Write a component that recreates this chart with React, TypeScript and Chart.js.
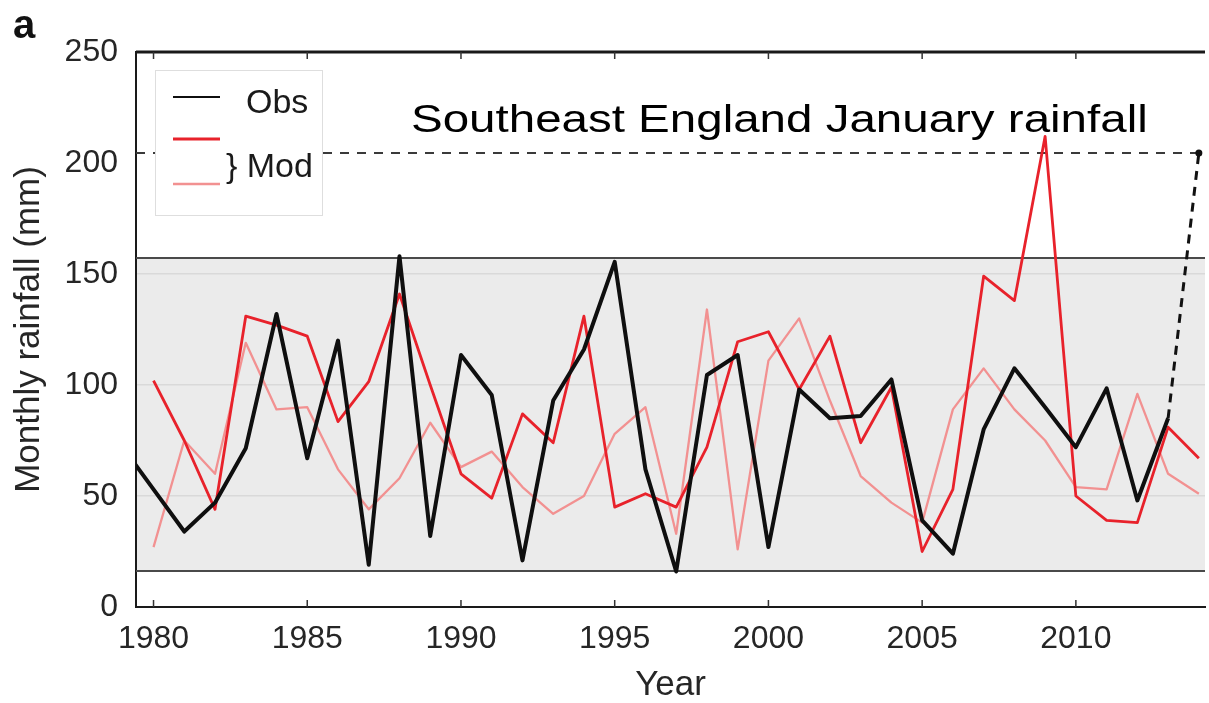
import React, { useEffect, useRef } from "react";
import { Chart, registerables } from "chart.js";

Chart.register(...registerables);

// ---------- data ----------
const obsYears = [
  1979, 1980, 1981, 1982, 1983, 1984, 1985, 1986, 1987, 1988, 1989, 1990,
  1991, 1992, 1993, 1994, 1995, 1996, 1997, 1998, 1999, 2000, 2001, 2002,
  2003, 2004, 2005, 2006, 2007, 2008, 2009, 2010, 2011, 2012, 2013,
];
const obsValues = [
  72, 53, 34, 47, 71.5, 132, 67, 120, 19, 158, 32, 113.5,
  95.5, 21, 93, 116, 155.5, 62, 16, 104.5, 113.5, 27, 98, 85,
  86, 102.5, 39, 24, 80, 107.5, 90, 72, 98.5, 48, 85,
];

const modYears = [
  1980, 1981, 1982, 1983, 1984, 1985, 1986, 1987, 1988, 1989, 1990, 1991,
  1992, 1993, 1994, 1995, 1996, 1997, 1998, 1999, 2000, 2001, 2002, 2003,
  2004, 2005, 2006, 2007, 2008, 2009, 2010, 2011, 2012, 2013, 2014,
];
const mod1Values = [
  102, 75, 44, 131, 127, 122, 83.5, 101.5, 141, 100, 60, 49,
  87, 74, 131, 45, 51, 45, 72, 119.5, 124, 98, 122, 74,
  99, 25, 53, 149, 138, 212, 50, 39, 38, 81, 67,
];
const mod2Values = [
  27, 75, 60, 119, 89, 90, 62, 44, 58, 83, 63, 70,
  54, 42, 50, 78, 90, 33, 134, 26, 111, 130, 93, 59,
  47, 38, 89, 107.5, 89, 75, 54, 53, 96, 60, 51,
];

// 2014 observed record and its link from 2013
const recordYears = [2013, 2014];
const recordValues = [85, 204.5];
const recordLevel = 204.5;

// climatological band (min / max of obs)
const bandLow = 16;
const bandHigh = 157;

const xTicks = [1980, 1985, 1990, 1995, 2000, 2005, 2010];
const yTicks = [0, 50, 100, 150, 200, 250];
const xMin = 1979.43;
const xMax = 2014.2;
const yMin = 0;
const yMax = 250;

const titleText = "Southeast England January rainfall";
const legendObs = "Obs";
const legendMod = "} Mod";
const panelLabel = "a";
const xTitle = "Year";
const yTitle = "Monthly rainfall (mm)";

const COL_OBS = "#0f0f0f";
const COL_MOD1 = "#e8222b";
const COL_MOD2 = "#f29191";
const FONT = "'Liberation Sans', Arial, Helvetica, sans-serif";

const pts = (xs: number[], ys: number[]) => xs.map((x, i) => ({ x, y: ys[i] }));

const decorPlugin = {
  id: "decor",
  beforeDraw(chart: any) {
    const { ctx, chartArea: a, scales } = chart;
    const y = scales.y;
    ctx.save();
    ctx.fillStyle = "#ffffff";
    ctx.fillRect(0, 0, chart.width, chart.height);
    const yHi = y.getPixelForValue(bandHigh);
    const yLo = y.getPixelForValue(bandLow);
    ctx.fillStyle = "#ebebeb";
    ctx.fillRect(a.left, yHi, a.right - a.left, yLo - yHi);
    ctx.restore();
  },
  beforeDatasetsDraw(chart: any) {
    const { ctx, chartArea: a, scales } = chart;
    const x = scales.x;
    const y = scales.y;
    ctx.save();
    // band edges
    ctx.strokeStyle = "#4a4a4a";
    ctx.lineWidth = 2;
    [bandHigh, bandLow].forEach((v) => {
      const py = Math.round(y.getPixelForValue(v));
      ctx.beginPath();
      ctx.moveTo(a.left, py);
      ctx.lineTo(a.right, py);
      ctx.stroke();
    });
    // top frame
    ctx.strokeStyle = "#1a1a1a";
    ctx.lineWidth = 3;
    ctx.beginPath();
    ctx.moveTo(a.left, a.top);
    ctx.lineTo(a.right, a.top);
    ctx.stroke();
    // inward ticks
    ctx.lineWidth = 1.5;
    ctx.strokeStyle = "#333";
    xTicks.forEach((t) => {
      const px = x.getPixelForValue(t);
      ctx.beginPath();
      ctx.moveTo(px, a.bottom);
      ctx.lineTo(px, a.bottom - 7);
      ctx.moveTo(px, a.top);
      ctx.lineTo(px, a.top + 7);
      ctx.stroke();
    });
    ctx.restore();
  },
  afterDatasetsDraw(chart: any) {
    const { ctx } = chart;
    ctx.save();
    // legend box
    const lx = 155, ly = 70, lw = 167, lh = 145;
    ctx.fillStyle = "#ffffff";
    ctx.fillRect(lx, ly, lw, lh);
    ctx.strokeStyle = "#dedede";
    ctx.lineWidth = 1;
    ctx.strokeRect(lx + 0.5, ly + 0.5, lw, lh);
    const line = (yy: number, col: string, w: number) => {
      ctx.strokeStyle = col;
      ctx.lineWidth = w;
      ctx.beginPath();
      ctx.moveTo(173, yy);
      ctx.lineTo(220, yy);
      ctx.stroke();
    };
    line(97, COL_OBS, 2);
    line(139, COL_MOD1, 3);
    line(184, COL_MOD2, 2.5);
    ctx.fillStyle = "#1a1a1a";
    ctx.font = `34px ${FONT}`;
    ctx.textBaseline = "alphabetic";
    ctx.textAlign = "left";
    ctx.fillText(legendObs, 246, 113);
    ctx.fillText(legendMod, 226, 177);

    // title (horizontally stretched like the reference)
    ctx.fillStyle = "#000000";
    ctx.font = `38px ${FONT}`;
    ctx.translate(411, 132);
    ctx.scale(1.25, 1);
    ctx.fillText(titleText, 0, 0);
    ctx.setTransform(1, 0, 0, 1, 0, 0);

    // panel label
    ctx.font = `bold 40px ${FONT}`;
    ctx.fillStyle = "#111";
    ctx.fillText(panelLabel, 13, 38);
    ctx.restore();
  },
};

export default function App() {
  const ref = useRef<HTMLCanvasElement | null>(null);

  useEffect(() => {
    if (!ref.current) return;
    const chart = new Chart(ref.current, {
      type: "line",
      data: {
        datasets: [
          {
            label: "Obs",
            data: pts(obsYears, obsValues),
            borderColor: COL_OBS,
            borderWidth: 4,
            borderJoinStyle: "round",
            pointRadius: 0,
            tension: 0,
            clip: 0,
          } as any,
          {
            label: "Mod 1",
            data: pts(modYears, mod1Values),
            borderColor: COL_MOD1,
            borderWidth: 2.8,
            borderJoinStyle: "round",
            pointRadius: 0,
            tension: 0,
            clip: 0,
          },
          {
            label: "Mod 2",
            data: pts(modYears, mod2Values),
            borderColor: COL_MOD2,
            borderWidth: 2.3,
            borderJoinStyle: "round",
            pointRadius: 0,
            tension: 0,
            clip: 0,
          },
          {
            label: "2014",
            data: pts(recordYears, recordValues),
            borderColor: "#111",
            backgroundColor: "#111",
            borderWidth: 3,
            borderDash: [9, 7],
            pointRadius: [0, 3.5],
            pointBorderWidth: 0,
            tension: 0,
            clip: 6,
          },
          {
            label: "record level",
            data: [
              { x: xMin, y: recordLevel },
              { x: recordYears[1], y: recordLevel },
            ],
            borderColor: "#3a3a3a",
            borderWidth: 2,
            borderDash: [9, 8],
            pointRadius: 0,
            tension: 0,
            clip: 0,
          },
        ],
      },
      options: {
        animation: false,
        responsive: false,
        devicePixelRatio: 1,
        layout: { padding: { top: 52, right: 0, left: 0, bottom: 0 } },
        plugins: {
          legend: { display: false },
          tooltip: { enabled: false },
          title: { display: false },
        },
        scales: {
          x: {
            type: "linear",
            min: xMin,
            max: xMax,
            afterBuildTicks: (s: any) => {
              s.ticks = xTicks.map((v) => ({ value: v }));
            },
            afterFit: (s: any) => {
              s.height = 96;
            },
            grid: { display: false, drawTicks: false },
            border: { display: true, color: "#1a1a1a", width: 2 },
            ticks: {
              autoSkip: false,
              maxRotation: 0,
              padding: 13,
              color: "#262626",
              font: { family: FONT, size: 32 },
              callback: (v: any) => String(v),
            },
            title: {
              display: true,
              text: xTitle,
              color: "#262626",
              font: { family: FONT, size: 35, lineHeight: 1 },
              padding: { top: 0, bottom: 0 },
            },
          },
          y: {
            type: "linear",
            min: yMin,
            max: yMax,
            afterBuildTicks: (s: any) => {
              s.ticks = yTicks.map((v) => ({ value: v }));
            },
            afterFit: (s: any) => {
              s.width = 136;
            },
            grid: {
              drawTicks: false,
              lineWidth: 1.5,
              color: (c: any) =>
                c.tick && c.tick.value > bandLow && c.tick.value < bandHigh
                  ? "#d9d9d9"
                  : "rgba(0,0,0,0)",
            },
            border: { display: true, color: "#1a1a1a", width: 2 },
            ticks: {
              padding: 18,
              color: "#262626",
              font: { family: FONT, size: 32 },
              callback: (v: any) => String(v),
            },
            title: {
              display: true,
              text: yTitle,
              color: "#262626",
              font: { family: FONT, size: 35, lineHeight: 1 },
              padding: { top: 12, bottom: 0 },
            },
          },
        },
      },
      plugins: [decorPlugin],
    });
    return () => chart.destroy();
  }, []);

  return (
    <div style={{ position: "absolute", left: 0, top: 0, width: 1209, height: 703, background: "#fff" }}>
      <canvas ref={ref} width={1209} height={703} style={{ width: 1209, height: 703, display: "block" }} />
    </div>
  );
}
